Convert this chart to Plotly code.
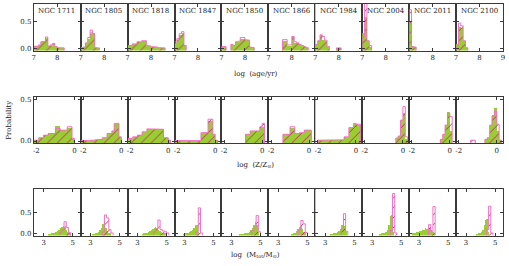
import plotly.graph_objects as go

CLUSTERS = ["NGC 1711", "NGC 1805", "NGC 1818", "NGC 1847", "NGC 1850",
            "NGC 1866", "NGC 1984", "NGC 2004", "NGC 2011", "NGC 2100"]

# ---- Row 1: log(age/yr) ----
AGE_BINS = [7.05, 7.15, 7.25, 7.35, 7.45, 7.55, 7.65, 7.75, 7.85, 7.95,
            8.05, 8.15, 8.25, 8.35, 8.45, 8.55, 8.65, 8.75, 8.85, 8.95]
AGE_WIDTH = 0.1
AGE_GREEN = [
    [0.035, 0.035, 0.06, 0.12, 0.12, 0.19, 0.04, 0.05, 0.08, 0.03, 0.01, 0.01, 0.005, 0, 0, 0, 0, 0, 0, 0],
    [0.01, 0.02, 0.1, 0.18, 0.27, 0.29, 0.01, 0.005, 0, 0, 0, 0, 0, 0, 0, 0, 0, 0, 0, 0],
    [0.05, 0.05, 0.08, 0.08, 0.12, 0.12, 0.14, 0.14, 0.04, 0.04, 0.03, 0.03, 0.02, 0.01, 0.01, 0.005, 0, 0, 0, 0],
    [0.1, 0.16, 0.25, 0.28, 0.04, 0, 0, 0, 0, 0, 0, 0, 0, 0, 0, 0, 0, 0, 0, 0],
    [0.03, 0.03, 0, 0, 0.07, 0.05, 0.12, 0.12, 0.18, 0.18, 0.15, 0.15, 0.02, 0.01, 0, 0, 0, 0, 0, 0],
    [0, 0, 0, 0, 0, 0, 0.14, 0.14, 0.04, 0.04, 0.23, 0.1, 0.1, 0.07, 0.05, 0.03, 0.01, 0, 0, 0],
    [0.07, 0.13, 0.24, 0.16, 0.14, 0.03, 0, 0, 0, 0.005, 0.005, 0, 0, 0, 0, 0, 0, 0, 0, 0],
    [0.28, 0.59, 0.14, 0.03, 0, 0, 0, 0, 0, 0, 0, 0, 0, 0, 0, 0, 0, 0, 0, 0],
    [0.5, 0.03, 0.02, 0, 0, 0, 0, 0, 0, 0, 0, 0, 0, 0, 0, 0, 0, 0, 0, 0],
    [0.07, 0.4, 0.37, 0.13, 0.01, 0, 0, 0, 0, 0, 0, 0, 0, 0, 0, 0, 0, 0, 0, 0],
]
AGE_PINK = [
    [0.035, 0.035, 0.06, 0.12, 0.13, 0.21, 0.04, 0.06, 0.09, 0.03, 0.01, 0.01, 0.005, 0, 0, 0, 0, 0, 0, 0],
    [0.01, 0.02, 0.1, 0.2, 0.34, 0.27, 0.01, 0.005, 0, 0, 0, 0, 0, 0, 0, 0, 0, 0, 0, 0],
    [0.05, 0.05, 0.08, 0.08, 0.12, 0.12, 0.14, 0.14, 0.05, 0.04, 0.03, 0.03, 0.02, 0.01, 0.01, 0.005, 0, 0, 0, 0],
    [0.12, 0.18, 0.27, 0.31, 0.05, 0, 0, 0, 0, 0, 0, 0, 0, 0, 0, 0, 0, 0, 0, 0],
    [0.03, 0.03, 0, 0, 0.07, 0.05, 0.12, 0.13, 0.2, 0.2, 0.16, 0.15, 0.02, 0.01, 0, 0, 0, 0, 0, 0],
    [0, 0, 0, 0, 0, 0, 0.16, 0.16, 0.06, 0.06, 0.22, 0.12, 0.1, 0.07, 0.05, 0.03, 0.01, 0, 0, 0],
    [0.07, 0.14, 0.25, 0.22, 0.15, 0.03, 0, 0, 0, 0.005, 0.005, 0, 0, 0, 0, 0, 0, 0, 0, 0],
    [0.2, 0.9, 0.14, 0.05, 0, 0, 0, 0, 0, 0, 0, 0, 0, 0, 0, 0, 0, 0, 0, 0],
    [0.72, 0.03, 0.02, 0, 0, 0, 0, 0, 0, 0, 0, 0, 0, 0, 0, 0, 0, 0, 0, 0],
    [0.05, 0.47, 0.42, 0.14, 0.01, 0, 0, 0, 0, 0, 0, 0, 0, 0, 0, 0, 0, 0, 0, 0],
]

# ---- Row 2: log(Z/Zsun) ----
Z_BINS = [-2.1875, -2.0625, -1.9375, -1.8125, -1.6875, -1.5625, -1.4375, -1.3125,
          -1.1875, -1.0625, -0.9375, -0.8125, -0.6875, -0.5625, -0.4375, -0.3125,
          -0.1875, -0.0625, 0.0625, 0.1875, 0.3125]
Z_WIDTH = 0.125
Z_GREEN = [
    [0.01, 0.01, 0.01, 0.04, 0.04, 0.07, 0.07, 0.09, 0.09, 0.09, 0.18, 0.18, 0.13, 0.13, 0.13, 0.16, 0.16, 0.03, 0, 0, 0],
    [0.005, 0.005, 0.005, 0.005, 0.005, 0.01, 0.01, 0.015, 0.015, 0.02, 0.04, 0.04, 0.09, 0.09, 0.12, 0.2, 0.2, 0.05, 0, 0, 0],
    [0.03, 0.03, 0.03, 0.05, 0.05, 0.07, 0.07, 0.11, 0.11, 0.145, 0.145, 0.145, 0.145, 0.14, 0.14, 0.14, 0.04, 0.04, 0.01, 0, 0],
    [0.005, 0.005, 0.005, 0.005, 0.005, 0.005, 0.005, 0.005, 0.005, 0.005, 0.005, 0.005, 0.1, 0.1, 0.1, 0.24, 0.24, 0.08, 0.01, 0, 0],
    [0, 0, 0, 0, 0, 0, 0, 0, 0, 0, 0, 0.08, 0.08, 0.12, 0.12, 0.12, 0.12, 0.17, 0.17, 0, 0],
    [0, 0, 0, 0, 0, 0, 0, 0.08, 0.08, 0.08, 0.16, 0.16, 0.09, 0.09, 0.1, 0.1, 0.13, 0.13, 0.13, 0, 0],
    [0, 0, 0.01, 0.01, 0.01, 0.01, 0.01, 0.01, 0.01, 0.01, 0.01, 0.01, 0.015, 0.05, 0.05, 0.16, 0.16, 0.21, 0.19, 0.19, 0],
    [0, 0, 0, 0, 0, 0, 0, 0, 0, 0, 0, 0, 0, 0, 0, 0.035, 0.06, 0.25, 0.34, 0.02, 0],
    [0, 0, 0, 0, 0, 0, 0, 0, 0, 0, 0, 0, 0, 0, 0.02, 0.08, 0.19, 0.35, 0.12, 0, 0],
    [0, 0, 0, 0, 0, 0, 0, 0, 0, 0, 0, 0, 0, 0.02, 0.04, 0.19, 0.31, 0.39, 0.12, 0.01, 0],
]
Z_PINK = [
    [0.01, 0.01, 0.01, 0.04, 0.04, 0.07, 0.07, 0.09, 0.09, 0.09, 0.15, 0.15, 0.13, 0.13, 0.13, 0.17, 0.17, 0.03, 0, 0, 0],
    [0.005, 0.005, 0.005, 0.005, 0.005, 0.01, 0.01, 0.015, 0.015, 0.02, 0.04, 0.04, 0.09, 0.09, 0.12, 0.21, 0.21, 0.05, 0, 0, 0],
    [0.03, 0.03, 0.03, 0.05, 0.05, 0.07, 0.07, 0.11, 0.11, 0.145, 0.145, 0.145, 0.145, 0.14, 0.14, 0.14, 0.04, 0.04, 0.01, 0, 0],
    [0.005, 0.005, 0.005, 0.005, 0.005, 0.005, 0.005, 0.005, 0.005, 0.005, 0.005, 0.005, 0.1, 0.1, 0.1, 0.26, 0.26, 0.08, 0.01, 0, 0],
    [0, 0, 0, 0, 0, 0, 0, 0, 0, 0, 0, 0.08, 0.08, 0.12, 0.12, 0.12, 0.12, 0.17, 0.21, 0, 0],
    [0, 0, 0, 0, 0, 0, 0, 0.08, 0.08, 0.08, 0.17, 0.17, 0.09, 0.09, 0.1, 0.1, 0.13, 0.13, 0.13, 0, 0],
    [0, 0, 0.01, 0.01, 0.01, 0.01, 0.01, 0.01, 0.01, 0.01, 0.01, 0.01, 0.015, 0.05, 0.05, 0.16, 0.16, 0.21, 0.2, 0.2, 0],
    [0, 0, 0, 0, 0, 0, 0, 0, 0, 0, 0, 0, 0, 0, 0, 0.035, 0.06, 0.25, 0.41, 0.05, 0],
    [0, 0, 0, 0, 0, 0, 0, 0, 0, 0, 0, 0, 0, 0, 0.02, 0.08, 0.19, 0.33, 0.29, 0, 0],
    [0, 0, 0, 0, 0, 0, 0, 0.01, 0.01, 0, 0, 0, 0, 0.02, 0.04, 0.19, 0.3, 0.36, 0.2, 0.01, 0],
]

# ---- Row 3: log(Mtot/Msun) ----
MASS_G_BINS = [2.55, 2.65, 2.75, 2.85, 2.95, 3.05, 3.15, 3.25, 3.35, 3.45, 3.55, 3.65, 3.75,
               3.85, 3.95, 4.05, 4.15, 4.25, 4.35, 4.45, 4.55, 4.65, 4.75, 4.85, 4.95]
MASS_G_WIDTH = 0.1
MASS_GREEN = [
    [0, 0, 0, 0, 0, 0, 0, 0, 0.005, 0.005, 0.01, 0.02, 0.03, 0.05, 0.07, 0.1, 0.13, 0.16, 0.18, 0.15, 0.08, 0.04, 0.02, 0.01, 0],
    [0, 0, 0, 0, 0, 0, 0.003, 0.005, 0.01, 0.02, 0.04, 0.08, 0.15, 0.24, 0.28, 0.15, 0.06, 0.02, 0.01, 0, 0, 0, 0, 0, 0],
    [0, 0, 0, 0, 0, 0, 0, 0, 0.005, 0.01, 0.02, 0.03, 0.05, 0.07, 0.1, 0.12, 0.14, 0.16, 0.15, 0.1, 0.06, 0.04, 0.03, 0.02, 0.01],
    [0, 0, 0, 0, 0.005, 0.01, 0.02, 0.03, 0.04, 0.06, 0.09, 0.14, 0.2, 0.22, 0.05, 0, 0, 0, 0, 0, 0, 0, 0, 0, 0],
    [0, 0, 0, 0, 0, 0, 0, 0, 0, 0, 0.003, 0.005, 0.005, 0.008, 0.01, 0.02, 0.03, 0.05, 0.08, 0.13, 0.2, 0.28, 0.2, 0.05, 0],
    [0, 0, 0, 0, 0, 0, 0, 0, 0, 0, 0, 0, 0, 0, 0.005, 0.01, 0.03, 0.06, 0.12, 0.17, 0.19, 0.12, 0.04, 0.01, 0],
    [0, 0, 0, 0, 0, 0, 0, 0, 0.003, 0.005, 0.01, 0.01, 0.02, 0.04, 0.07, 0.12, 0.2, 0.26, 0.18, 0.04, 0, 0, 0, 0, 0],
    [0, 0, 0, 0, 0, 0, 0, 0, 0, 0, 0.005, 0.01, 0.02, 0.03, 0.05, 0.1, 0.2, 0.42, 0.45, 0.05, 0, 0, 0, 0, 0],
    [0.01, 0.02, 0.03, 0.04, 0.05, 0.06, 0.07, 0.08, 0.1, 0.14, 0.12, 0.1, 0.13, 0.08, 0.04, 0.01, 0, 0, 0, 0, 0, 0, 0, 0, 0],
    [0, 0, 0, 0, 0, 0, 0, 0, 0, 0, 0, 0, 0.005, 0.01, 0.02, 0.04, 0.08, 0.2, 0.33, 0.35, 0.05, 0, 0, 0, 0],
]
MASS_P_BINS = [3.575, 3.725, 3.875, 4.025, 4.175, 4.325, 4.475, 4.625, 4.775, 4.925, 5.075]
MASS_P_WIDTH = 0.15
MASS_PINK = [
    [0, 0, 0, 0, 0.04, 0.1, 0.29, 0.15, 0.03, 0, 0],
    [0, 0, 0.05, 0.45, 0.38, 0.1, 0.02, 0, 0, 0, 0],
    [0, 0, 0, 0, 0.05, 0.12, 0.33, 0.1, 0.07, 0.05, 0.02],
    [0, 0, 0.05, 0.62, 0.02, 0, 0, 0, 0, 0, 0],
    [0, 0, 0, 0, 0, 0, 0.08, 0.15, 0.44, 0.05, 0],
    [0, 0, 0, 0, 0, 0, 0.1, 0.32, 0.24, 0.03, 0],
    [0, 0, 0, 0, 0.12, 0.48, 0.06, 0, 0, 0, 0],
    [0, 0, 0, 0, 0, 0.08, 0.96, 0.02, 0, 0, 0],
    [0, 0.22, 0.05, 0.65, 0, 0, 0, 0, 0, 0, 0],
    [0, 0, 0, 0, 0, 0, 0.1, 0.66, 0.02, 0, 0],
]

# ---------------- layout / styling ----------------
W, H = 509, 266
LEFT0, PANEL_W = 32.0, 47.3
GREEN = "#9ACD32"
PINK = "#F46FC4"
HATCH = "#B8306A"
FRAME = "#3a3a3a"
FONT = "DejaVu Serif"

ROWS = [
    dict(top=2.0, bottom=49.5, xr=[7.0, 9.0], yr=[-0.045, 0.83],
         gx=AGE_BINS, gw=AGE_WIDTH, gv=AGE_GREEN, px=AGE_BINS, pw=AGE_WIDTH, pv=AGE_PINK,
         xt=[7, 8], xtl=["7", "8"], xt_last=[7, 8, 9], xtl_last=["7", "8", "9"]),
    dict(top=97.0, bottom=144.0, xr=[-2.14, 0.33], yr=[-0.027, 0.523],
         gx=Z_BINS, gw=Z_WIDTH, gv=Z_GREEN, px=Z_BINS, pw=Z_WIDTH, pv=Z_PINK,
         xt=[-2, 0], xtl=["-2", "0"], xt_last=[-2, 0], xtl_last=["-2", "0"]),
    dict(top=191.0, bottom=238.0, xr=[2.32, 5.54], yr=[-0.04, 1.06],
         gx=MASS_G_BINS, gw=MASS_G_WIDTH, gv=MASS_GREEN, px=MASS_P_BINS, pw=MASS_P_WIDTH, pv=MASS_PINK,
         xt=[3, 5], xtl=["3", "5"], xt_last=[3, 5], xtl_last=["3", "5"]),
]


def step_path(centers, values, width, base):
    xs, ys = [], []
    run = False
    for c, v in zip(centers, values):
        l, r = c - width / 2.0, c + width / 2.0
        if v > 0:
            if not run:
                xs.append(l); ys.append(base)
                run = True
            xs += [l, r]; ys += [v, v]
        else:
            if run:
                xs.append(xs[-1]); ys.append(base)
                xs.append(None); ys.append(None)
                run = False
    if run:
        xs.append(xs[-1]); ys.append(base)
    return xs, ys


fig = go.Figure()
layout = {}
for r, row in enumerate(ROWS):
    ymin = row["yr"][0]
    for c in range(10):
        idx = r * 10 + c + 1
        xa = "x" if idx == 1 else f"x{idx}"
        ya = "y" if idx == 1 else f"y{idx}"
        left = LEFT0 + PANEL_W * c
        xdom = [left / W, (left + PANEL_W) / W]
        ydom = [1 - row["bottom"] / H, 1 - row["top"] / H]
        last = (c == 9)
        eps = 1e-6
        layout["xaxis" if idx == 1 else f"xaxis{idx}"] = dict(
            domain=xdom, anchor=ya, range=[row["xr"][0] - eps, row["xr"][1] + eps],
            tickvals=row["xt_last"] if last else row["xt"],
            ticktext=row["xtl_last"] if last else row["xtl"],
            ticks="inside", ticklen=3, tickwidth=1, tickcolor=FRAME,
            showline=True, linecolor=FRAME, linewidth=1, mirror="ticks",
            showgrid=False, zeroline=False,
            tickfont=dict(family=FONT, size=7, color="#222"),
        )
        layout["yaxis" if idx == 1 else f"yaxis{idx}"] = dict(
            domain=ydom, anchor=xa, range=row["yr"],
            tickvals=[0, 0.5], ticktext=["0.0", "0.5"], showticklabels=(c == 0),
            ticks="inside", ticklen=3, tickwidth=1, tickcolor=FRAME,
            showline=True, linecolor=FRAME, linewidth=1, mirror="ticks",
            showgrid=False, zeroline=False,
            tickfont=dict(family=FONT, size=7, color="#222"),
        )
        gv = row["gv"][c]
        gx = [x for x, v in zip(row["gx"], gv) if v > 0]
        gy = [v - ymin for v in gv if v > 0]
        fig.add_trace(go.Bar(x=gx, y=gy, base=ymin, width=row["gw"], xaxis=xa, yaxis=ya,
                             marker=dict(color=GREEN, line=dict(width=0)), showlegend=False,
                             hoverinfo="skip"))
        pv = row["pv"][c]
        px = [x for x, v in zip(row["px"], pv) if v > 0]
        py = [v - ymin for v in pv if v > 0]
        fig.add_trace(go.Bar(x=px, y=py, base=ymin, width=row["pw"], xaxis=xa, yaxis=ya,
                             marker=dict(color="rgba(0,0,0,0)", line=dict(width=0),
                                         pattern=dict(shape="/", fgcolor=HATCH,
                                                      bgcolor="rgba(0,0,0,0)", size=7,
                                                      solidity=0.14, fillmode="replace")),
                             showlegend=False, hoverinfo="skip"))
        sx, sy = step_path(row["px"], pv, row["pw"], ymin)
        fig.add_trace(go.Scatter(x=sx, y=sy, mode="lines", xaxis=xa, yaxis=ya,
                                 line=dict(color=PINK, width=1), showlegend=False,
                                 hoverinfo="skip", connectgaps=False))

annotations = []
for c, name in enumerate(CLUSTERS):
    left = LEFT0 + PANEL_W * c
    annotations.append(dict(text=name, x=(left + 2.5) / W, y=1 - 3.5 / H, xref="paper", yref="paper",
                            xanchor="left", yanchor="top", showarrow=False,
                            font=dict(family=FONT, size=7, color="#222")))

titles = [("log  (age/yr)", 73), ("log  (Z/Z<sub>\u2299</sub>)", 166),
          ("log  (M<sub>tot</sub>/M<sub>\u2299</sub>)", 258)]
for t, yp in titles:
    annotations.append(dict(text=t, x=256 / W, y=1 - yp / H, xref="paper", yref="paper",
                            xanchor="center", yanchor="middle", showarrow=False,
                            font=dict(family=FONT, size=7, color="#222")))
annotations.append(dict(text="Probability", x=7 / W, y=1 - 120 / H, xref="paper", yref="paper",
                        xanchor="center", yanchor="middle", textangle=-90, showarrow=False,
                        font=dict(family=FONT, size=7, color="#222")))

fig.update_layout(
    width=W, height=H, margin=dict(l=0, r=0, t=0, b=0),
    paper_bgcolor="white", plot_bgcolor="white",
    barmode="overlay", bargap=0, annotations=annotations,
    hovermode=False,
    **layout,
)

fig.write_html("out.html", config={"displayModeBar": False, "staticPlot": True},
               post_script="document.body.style.margin='0';document.body.style.padding='0';"
                           "document.body.style.overflow='hidden';")
